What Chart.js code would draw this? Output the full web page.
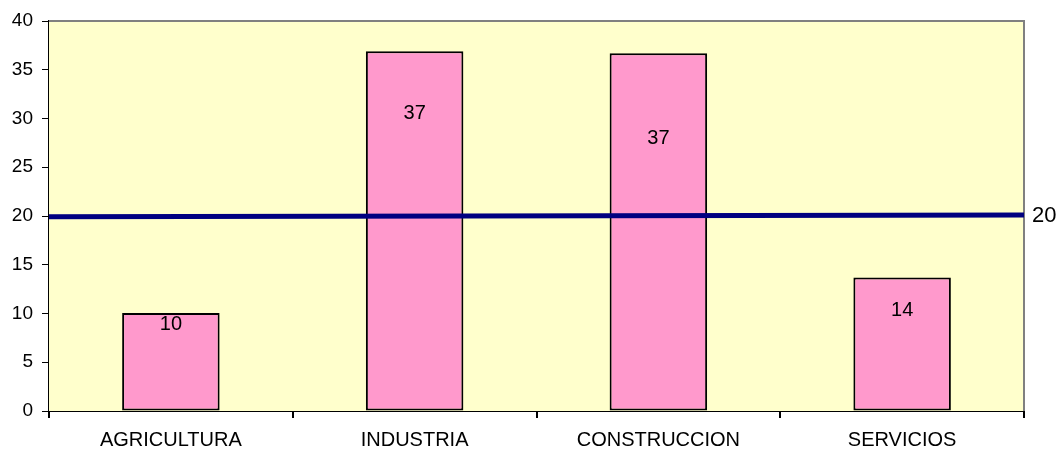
<!DOCTYPE html>
<html>
<head>
<meta charset="utf-8">
<script src="https://cdn.jsdelivr.net/npm/chart.js@4.4.1/dist/chart.umd.min.js"></script>
<style>
  body { margin: 0; background: #fff; }
  canvas { display: block; }
</style>
</head>
<body>
<canvas id="chart" width="1061" height="452"></canvas>
<script>
// data
const categories = ["AGRICULTURA", "INDUSTRIA", "CONSTRUCCION", "SERVICIOS"];
const shares = [10.05, 36.9, 36.7, 13.7];
const refLineX = [0, 1];
const refLineY = [19.93, 20.1];
const refLineLabel = "20";
const yTicks = [0, 5, 10, 15, 20, 25, 30, 35, 40];

// label shift below the bar top, in px (as placed in the original)
const labelShift = [11, 62, 85, 33];

const FONT = "'Liberation Sans', Arial, sans-serif";

const plotDecor = {
  id: "plotDecor",
  beforeDatasetsDraw(chart) {
    const { ctx, chartArea: a } = chart;
    ctx.save();
    ctx.fillStyle = "#FFFFCC";
    ctx.fillRect(a.left, a.top, a.right - a.left, a.bottom - a.top);
    ctx.strokeStyle = "#808080";
    ctx.lineWidth = 2;
    ctx.beginPath();
    ctx.moveTo(a.left, a.top);
    ctx.lineTo(a.right, a.top);
    ctx.lineTo(a.right, a.bottom);
    ctx.stroke();
    ctx.restore();
  },
  afterDraw(chart) {
    const { ctx } = chart;
    ctx.save();
    ctx.fillStyle = "#000";
    ctx.font = "20px " + FONT;
    ctx.textAlign = "center";
    ctx.textBaseline = "middle";
    chart.getDatasetMeta(0).data.forEach((bar, i) => {
      ctx.fillText(Math.round(shares[i]), bar.x, bar.y + labelShift[i]);
    });
    const pts = chart.getDatasetMeta(1).data;
    const last = pts[pts.length - 1];
    ctx.font = "22px " + FONT;
    ctx.textAlign = "left";
    ctx.fillText(refLineLabel, last.x + 8, last.y + 1);
    ctx.restore();
  }
};

new Chart(document.getElementById("chart"), {
  type: "bar",
  data: {
    labels: categories,
    datasets: [{
      data: shares,
      backgroundColor: "#FF99CC",
      borderColor: "#000",
      borderWidth: 2,
      borderSkipped: false,
      barPercentage: 0.4,
      categoryPercentage: 1,
      grouped: false,
      order: 2
    }, {
      type: "line",
      data: refLineX.map((x, i) => ({ x: x, y: refLineY[i] })),
      xAxisID: "x2",
      borderColor: "#000080",
      borderWidth: 5,
      pointRadius: 0,
      fill: false,
      order: 1
    }]
  },
  options: {
    responsive: false,
    animation: false,
    layout: { padding: { top: 21, right: 37, left: 0, bottom: 0 } },
    plugins: { legend: { display: false }, tooltip: { enabled: false } },
    scales: {
      x: {
        offset: true,
        grid: { offset: true, drawOnChartArea: false, drawTicks: true, tickLength: 7, color: "#000", lineWidth: 2 },
        border: { color: "#000", width: 2 },
        ticks: { color: "#000", font: { family: FONT, size: 20 }, padding: 10, maxRotation: 0 },
        afterFit(s) { s.height = 41; }
      },
      x2: {
        type: "linear",
        min: 0,
        max: 1,
        offset: false,
        display: false
      },
      y: {
        min: 0,
        max: 40,
        afterBuildTicks(s) { s.ticks = yTicks.map(v => ({ value: v })); },
        grid: { drawOnChartArea: false, drawTicks: true, tickLength: 7, color: "#000", lineWidth: 1 },
        border: { color: "#000", width: 2 },
        ticks: { color: "#000", font: { family: FONT, size: 19 }, padding: 9 },
        afterFit(s) { s.width = 49; }
      }
    }
  },
  plugins: [plotDecor]
});
</script>
</body>
</html>
